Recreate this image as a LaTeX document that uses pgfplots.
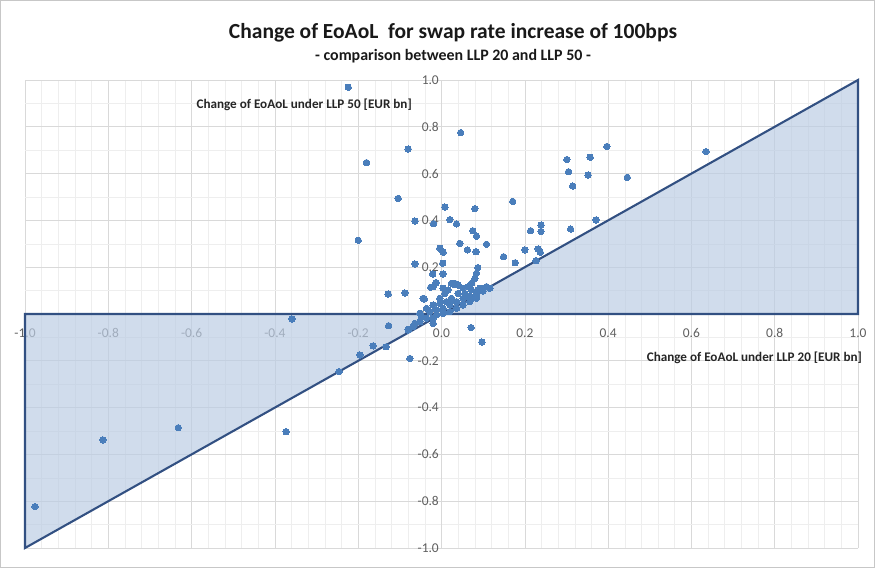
\documentclass[border=0pt]{standalone}
\usepackage{pgfplots}
\pgfplotsset{compat=1.18}
\usepackage{fontspec}
\setmainfont{Carlito}
\definecolor{ptblue}{RGB}{74,126,187}
\definecolor{shade}{RGB}{188,205,228}
\definecolor{edge}{RGB}{50,80,130}
\definecolor{ticklab}{RGB}{95,95,95}
\definecolor{majgrid}{RGB}{217,217,217}
\definecolor{mingrid}{RGB}{238,238,238}
\pgfplotsset{
  layers/mylayers/.define layer set={axis background,axis grid,axis ticks,axis lines,main,axis tick labels,axis descriptions,axis foreground}{},
}
\begin{document}
\begin{tikzpicture}
\begin{axis}[
  name=ax,
  set layers=mylayers,
  scale only axis,
  width=833bp, height=468bp,
  xmin=-1, xmax=1, ymin=-1, ymax=1,
  axis lines=middle,
  axis line style={majgrid, -},
  hide obscured x ticks=false,
  hide obscured y ticks=false,
  xtick={-1,-0.8,...,1.01}, ytick={-1,-0.8,...,1.01},
  minor x tick num=4, minor y tick num=1,
  grid=both,
  major grid style={majgrid, line width=0.6bp},
  minor grid style={mingrid, line width=0.5bp},
  major tick length=0pt, minor tick length=0pt,
  /pgf/number format/assume math mode=true,
  xticklabel={\pgfmathprintnumber[fixed,precision=1,zerofill]{\tick}},
  yticklabel={\pgfmathprintnumber[fixed,precision=1,zerofill]{\tick}},
  tick label style={font=\fontsize{13.5}{16}\selectfont, text=ticklab, inner sep=0pt},
  xticklabel style={anchor=center, yshift=-19bp},
  yticklabel style={anchor=east, xshift=-2.5bp},
  clip=false,
]
\addplot[fill=shade, fill opacity=0.7, draw=edge, line width=2.1bp] coordinates {(-1,-1) (-1,0) (0,0)} -- cycle;
\addplot[fill=shade, fill opacity=0.7, draw=edge, line width=2.1bp] coordinates {(0,0) (1,0) (1,1)} -- cycle;
\addplot[only marks, mark=*, mark size=3.2bp, mark options={fill=ptblue, draw=ptblue, line width=0pt}] coordinates {
(-0.224,0.969) (-0.180,0.647) (-0.080,0.705) (0.046,0.775) (-0.104,0.494)
(0.008,0.457) (0.080,0.450) (0.171,0.481) (-0.064,0.397) (-0.019,0.386)
(0.020,0.403) (0.036,0.385) (0.075,0.356) (-0.200,0.315) (0.084,0.333)
(0.108,0.298) (0.044,0.302) (0.062,0.274) (0.083,0.266) (-0.004,0.281)
(0.004,0.264) (0.149,0.245) (0.177,0.219) (0.200,0.274) (0.003,0.217)
(-0.021,0.171) (0.004,0.171) (-0.013,0.134) (-0.026,0.114) (-0.128,0.085)
(-0.088,0.090) (-0.041,0.064) (-0.127,-0.050) (-0.078,-0.065) (-0.164,-0.136)
(-0.133,-0.140) (-0.196,-0.175) (-0.076,-0.190) (0.071,-0.058) (0.097,-0.120)
(0.397,0.716) (0.635,0.694) (0.301,0.660) (0.357,0.670) (0.305,0.608)
(0.352,0.594) (0.446,0.584) (0.315,0.547) (0.371,0.402) (0.239,0.380)
(0.214,0.356) (0.239,0.353) (0.310,0.363) (0.232,0.278) (0.237,0.264)
(0.227,0.228) (0.116,0.110) (-0.976,-0.823) (-0.813,-0.538) (-0.632,-0.486)
(-0.373,-0.503) (-0.359,-0.021) (-0.246,-0.246) (-0.064,0.214)
(0.087,0.198) (0.084,0.174) (0.080,0.152) (0.072,0.131) (0.064,0.117)
(0.052,0.110) (0.040,0.124) (0.028,0.127) (0.004,0.110) (-0.020,0.117)
(-0.044,0.067) (-0.004,0.067) (0.024,0.067) (0.040,0.088) (0.056,0.088)
(0.072,0.103) (0.092,0.110) (0.108,0.117) (0.100,0.098) (0.084,0.084)
(0.068,0.074) (0.052,0.067) (0.036,0.053) (0.020,0.038) (0.004,0.024)
(-0.012,0.017) (-0.028,0.010) (-0.036,0.024) (-0.052,0.003) (-0.020,0.038)
(-0.004,0.046) (0.012,0.053) (-0.036,-0.018) (-0.052,-0.033) (-0.068,-0.054)
(-0.080,-0.068) (-0.020,-0.018) (-0.012,-0.004) (0.004,0.003) (0.020,0.010)
(0.036,0.024) (0.052,0.038) (0.068,0.053) (0.084,0.067) (-0.020,-0.040)
(-0.064,-0.040) (-0.048,-0.011) (0.024,0.131) (0.032,0.131) (0.016,0.103)
(0.008,0.088) (0.096,0.105) (0.088,0.103)
};
\node[anchor=east, inner sep=0pt, font=\bfseries\fontsize{13.2}{15}\selectfont, text=black!85] at (axis cs:-0.071,0.893) {Change of EoAoL under LLP 50 [EUR bn]};
\node[anchor=east, inner sep=0pt, font=\bfseries\fontsize{13.2}{15}\selectfont, text=black!85] at (axis cs:1.01,-0.188) {Change of EoAoL under LLP 20 [EUR bn]};
\end{axis}
\pgfresetboundingbox
\path[use as bounding box] ([xshift=-25bp,yshift=-20bp]ax.south west) rectangle ([xshift=17bp,yshift=80bp]ax.north east);
\draw[black!22, line width=0.8bp] ([xshift=-24.5bp,yshift=-19.5bp]ax.south west) rectangle ([xshift=16.5bp,yshift=79.5bp]ax.north east);
\node[font=\bfseries\fontsize{21.6}{25}\selectfont, text=black!90] at ([xshift=11.5bp,yshift=47bp]ax.north) {Change of EoAoL\ \ for swap rate increase of 100bps};
\node[font=\bfseries\fontsize{16}{19}\selectfont, text=black!90] at ([xshift=11.5bp,yshift=24bp]ax.north) {- comparison between LLP 20 and LLP 50 -};
\end{tikzpicture}
\end{document}
